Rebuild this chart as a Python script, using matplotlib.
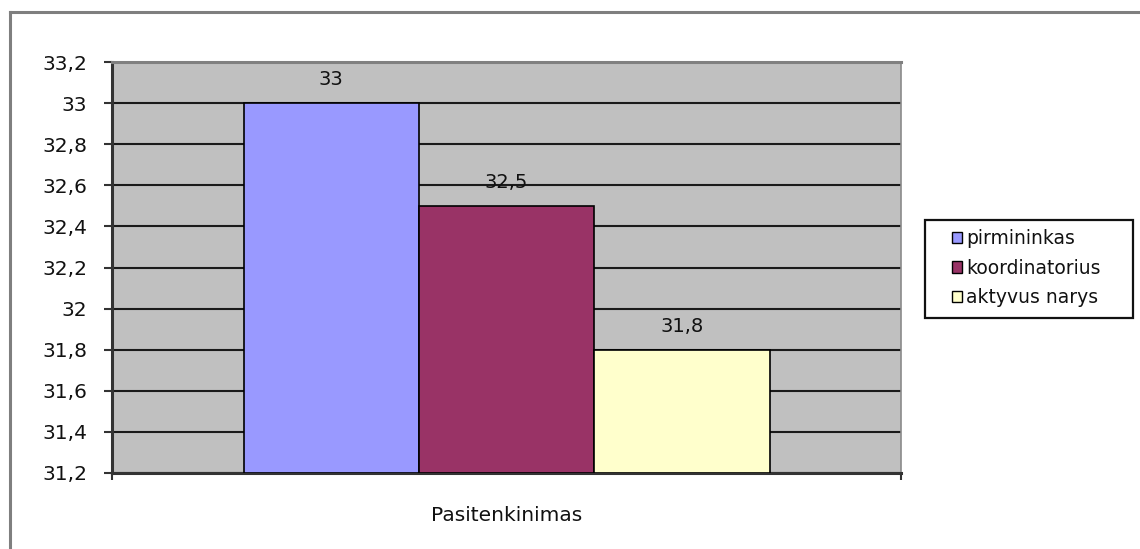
import matplotlib
matplotlib.use("Agg")
import matplotlib.pyplot as plt
from matplotlib.patches import Rectangle
from matplotlib.lines import Line2D
from matplotlib.ticker import FuncFormatter, MultipleLocator

# Data
category = "Pasitenkinimas"
series_names = ["pirmininkas", "koordinatorius", "aktyvus narys"]
values = [33.0, 32.5, 31.8]
colors = ["#9999FF", "#993366", "#FFFFCC"]
y_min, y_max, y_step = 31.2, 33.2, 0.2


def fmt(v):
    return f"{round(v, 1):g}".replace(".", ",")


plt.rcParams["font.family"] = ["DejaVu Sans"]

W, H = 1140, 549
fig = plt.figure(figsize=(W / 100, H / 100), dpi=100)
fig.patch.set_facecolor("white")

ax = fig.add_axes([112 / W, 1 - 473 / H, (901 - 112) / W, (473 - 62) / H])
ax.set_facecolor("#C0C0C0")

bar_w = 1 / 4.5
n = len(values)
for i, (v, c) in enumerate(zip(values, colors)):
    x = (i - (n - 1) / 2) * bar_w
    ax.bar(x, v - y_min, bottom=y_min, width=bar_w, color=c,
           edgecolor="black", linewidth=1.2, zorder=3)
    ax.annotate(fmt(v), (x, v), xytext=(0, 10), textcoords="offset points",
                ha="center", va="bottom", fontsize=14, color="#111111")

ax.set_xlim(-0.5, 0.5)
ax.set_ylim(y_min, y_max)
ax.yaxis.set_major_locator(MultipleLocator(y_step))
ax.yaxis.set_major_formatter(FuncFormatter(lambda v, _: fmt(v)))
ax.grid(axis="y", color="#1a1a1a", linewidth=1.5)
ax.set_axisbelow(True)

ax.set_xticks([0])
ax.set_xticklabels([category])
ax.tick_params(axis="x", which="major", length=0, pad=24, labelsize=14.5,
               labelcolor="#111111")
ax.set_xticks([-0.5, 0.5], minor=True)
ax.tick_params(axis="x", which="minor", length=5, width=1.5, color="#333333",
               direction="out")
ax.tick_params(axis="y", length=6, width=1.5, color="#333333", pad=12,
               labelsize=14.5, labelcolor="#111111")

ax.spines["left"].set_color("#333333")
ax.spines["left"].set_linewidth(2.2)
ax.spines["bottom"].set_color("#333333")
ax.spines["bottom"].set_linewidth(2.2)
ax.spines["top"].set_color("#808080")
ax.spines["top"].set_linewidth(2.2)
ax.spines["right"].set_color("#8a8a8a")
ax.spines["right"].set_linewidth(1.2)

# Legend: entries without frame, box drawn separately
handles = [Rectangle((0, 0), 1, 1, facecolor=c, edgecolor="black", linewidth=1.0)
           for c in colors]
leg = fig.legend(handles, series_names, loc="center left",
                 bbox_to_anchor=(952 / W, 1 - 268 / H),
                 fontsize=13.5, frameon=False,
                 handlelength=0.55, handleheight=0.55, handletextpad=0.2,
                 labelspacing=0.55, borderpad=0, borderaxespad=0)
for t in leg.get_texts():
    t.set_color("#111111")
fig.add_artist(Rectangle((925 / W, 1 - 318 / H), (1133 - 925) / W, 98 / H,
                         transform=fig.transFigure, facecolor="none",
                         edgecolor="#111111", linewidth=1.6, zorder=5))

# Chart area frame (top and left edges)
fig.add_artist(Line2D([10 / W, 1.0], [1 - 12 / H, 1 - 12 / H],
                      transform=fig.transFigure, color="#7f7f7f", linewidth=2.2))
fig.add_artist(Line2D([10 / W, 10 / W], [1 - 12 / H, 0.0],
                      transform=fig.transFigure, color="#7f7f7f", linewidth=2.2))

fig.savefig("out.png", dpi=100, facecolor="white")
